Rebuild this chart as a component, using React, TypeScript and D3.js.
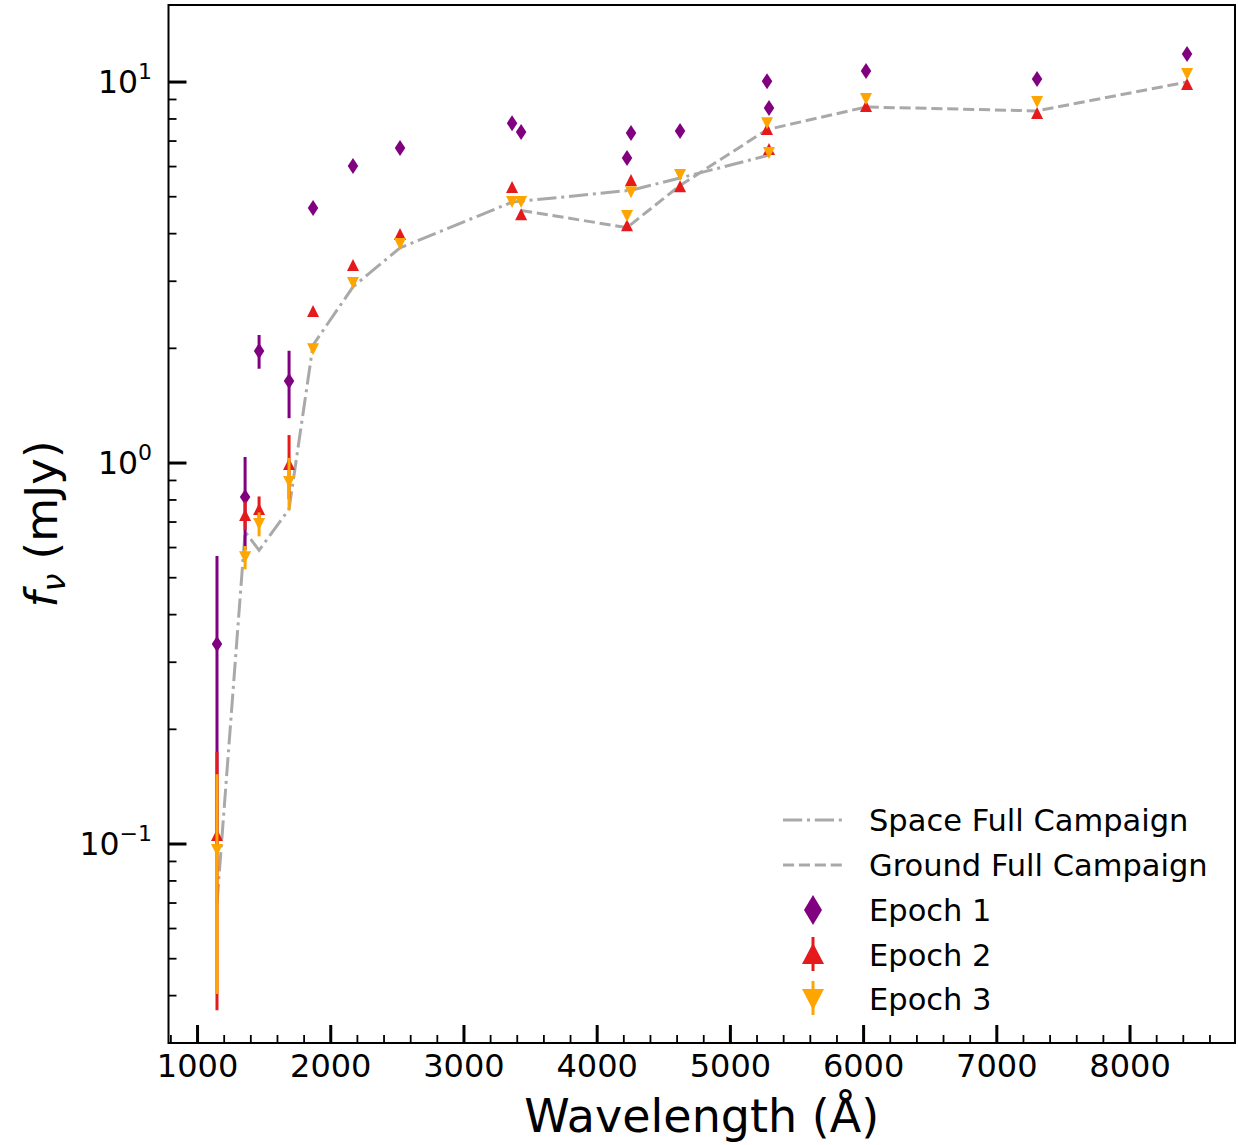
import React from "react";
import * as d3 from "d3";

const wavelengths = [1146, 1357, 1462, 1687, 1867, 2167, 2520, 3361, 3429, 4224, 4254, 4622, 5275, 5290, 6018, 7302, 8428];

const epoch1 = [0.335, 0.814, 1.968, 1.641, 4.67, 6.02, 6.71, 7.80, 7.39, 6.32, 7.35, 7.44, 10.05, 8.55, 10.69, 10.18, 11.84];
const epoch1Err = [0.235, 0.223, 0.2, 0.33, 0, 0, 0, 0, 0, 0, 0, 0, 0, 0, 0, 0, 0];

const epoch2 = [0.1056, 0.730, 0.757, 0.994, 2.506, 3.31, 3.99, 5.30, 4.50, 4.21, 5.53, 5.33, 7.53, 6.67, 8.65, 8.29, 9.88];
const epoch2Err = [0.069, 0.063, 0.06, 0.19, 0, 0, 0, 0, 0, 0, 0, 0, 0, 0, 0, 0, 0];

const epoch3 = [0.0964, 0.566, 0.692, 0.892, 1.99, 2.97, 3.76, 4.84, 4.84, 4.45, 5.14, 5.70, 7.80, 6.51, 9.02, 8.86, 10.50];
const epoch3Err = [0.056, 0.04, 0.05, 0.14, 0, 0, 0, 0, 0, 0, 0, 0, 0, 0, 0, 0, 0];

const spaceWave = [1146, 1357, 1462, 1687, 1867, 2167, 2520, 3361, 4254, 4622, 5290];
const spaceFlux = [0.07, 0.66, 0.59, 0.757, 2.04, 2.90, 3.67, 4.84, 5.2, 5.6, 6.43];

const groundWave = [3429, 4224, 4622, 5275, 6018, 7302, 8428];
const groundFlux = [4.6, 4.15, 5.35, 7.5, 8.6, 8.4, 10.0];

const xMajor = [1000, 2000, 3000, 4000, 5000, 6000, 7000, 8000];
const yMajor = [0.1, 1, 10];
const yMajorExp = ["\u22121", "0", "1"];

const W = 1238, H = 1145;
const L = 168.5, R = 1235, T = 5, B = 1043;
const FONT = "DejaVu Sans, sans-serif";
const PURPLE = "#800080";
const RED = "#e41a1c";
const ORANGE = "#ffa500";
const GREY = "#a9a9a9";

function diamondPath(cx: number, cy: number, w: number, h: number) {
  return `M${cx},${cy - h / 2}L${cx + w / 2},${cy}L${cx},${cy + h / 2}L${cx - w / 2},${cy}Z`;
}
function triUp(cx: number, cy: number, s: number) {
  return `M${cx},${cy - s / 2}L${cx + s / 2},${cy + s / 2}L${cx - s / 2},${cy + s / 2}Z`;
}
function triDown(cx: number, cy: number, s: number) {
  return `M${cx},${cy + s / 2}L${cx + s / 2},${cy - s / 2}L${cx - s / 2},${cy - s / 2}Z`;
}

export default function App() {
  const x = d3.scaleLinear().domain([782, 8788]).range([L, R]);
  const y = d3.scaleLog().domain([0.03004, 15.93]).range([B, T]);

  const xMinor: number[] = [];
  for (let v = 800; v <= 8700; v += 200) if (v % 1000 !== 0) xMinor.push(v);
  const yMinor: number[] = [];
  for (const base of [0.01, 0.1, 1]) for (let k = 2; k <= 9; k++) {
    const v = base * k;
    if (v >= 0.03004 && v <= 15.93) yMinor.push(v);
  }

  const line = d3.line<[number, number]>().x(d => x(d[0])).y(d => y(d[1]));
  const spacePts = spaceWave.map((w, i) => [w, spaceFlux[i]] as [number, number]);
  const groundPts = groundWave.map((w, i) => [w, groundFlux[i]] as [number, number]);

  const series = [
    { vals: epoch1, err: epoch1Err, color: PURPLE, kind: "d" },
    { vals: epoch2, err: epoch2Err, color: RED, kind: "^" },
    { vals: epoch3, err: epoch3Err, color: ORANGE, kind: "v" },
  ];

  const marker = (kind: string, cx: number, cy: number, color: string, scale: number, key?: any) => {
    let d = "";
    if (kind === "d") d = diamondPath(cx, cy, 10.5 * scale, 16 * scale);
    else if (kind === "^") d = triUp(cx, cy, 12 * scale);
    else d = triDown(cx, cy, 12 * scale);
    return <path key={key} d={d} fill={color} />;
  };

  const legendRows = [
    { label: "Space Full Campaign", type: "line", dash: "19.2,4.8,3,4.8" },
    { label: "Ground Full Campaign", type: "line", dash: "11.1,4.8" },
    { label: "Epoch 1", type: "d", color: PURPLE },
    { label: "Epoch 2", type: "^", color: RED },
    { label: "Epoch 3", type: "v", color: ORANGE },
  ];
  const legendY = [820, 865, 910, 955, 999];

  return (
    <svg width={W} height={H} style={{ position: "absolute", left: 0, top: 0, background: "#fff" }} fontFamily={FONT}>
      <rect x={0} y={0} width={W} height={H} fill="#fff" />
      <defs>
        <clipPath id="plotclip">
          <rect x={L} y={T} width={R - L} height={B - T} />
        </clipPath>
      </defs>
      <g clipPath="url(#plotclip)">
        <path d={line(spacePts) || ""} fill="none" stroke={GREY} strokeWidth={3} strokeDasharray="19.2,4.8,3,4.8" />
        <path d={line(groundPts) || ""} fill="none" stroke={GREY} strokeWidth={3} strokeDasharray="11.1,4.8" />
        {series.map((s, si) => (
          <g key={si}>
            {s.vals.map((v, i) =>
              s.err[i] > 0 ? (
                <line key={"e" + i} x1={x(wavelengths[i])} x2={x(wavelengths[i])}
                  y1={y(v + s.err[i])} y2={y(Math.max(v - s.err[i], 0.001))}
                  stroke={s.color} strokeWidth={3} />
              ) : null
            )}
            {s.vals.map((v, i) => marker(s.kind, x(wavelengths[i]), y(v), s.color, 1, "m" + i))}
          </g>
        ))}
      </g>

      {/* ticks */}
      {xMajor.map(v => (
        <line key={"xM" + v} x1={x(v)} x2={x(v)} y1={B} y2={B - 18} stroke="#000" strokeWidth={3} />
      ))}
      {xMinor.map(v => (
        <line key={"xm" + v} x1={x(v)} x2={x(v)} y1={B} y2={B - 8} stroke="#000" strokeWidth={1.8} />
      ))}
      {yMajor.map(v => (
        <line key={"yM" + v} x1={L} x2={L + 18} y1={y(v)} y2={y(v)} stroke="#000" strokeWidth={3} />
      ))}
      {yMinor.map(v => (
        <line key={"ym" + v} x1={L} x2={L + 8} y1={y(v)} y2={y(v)} stroke="#000" strokeWidth={1.8} />
      ))}
      <rect x={L} y={T} width={R - L} height={B - T} fill="none" stroke="#000" strokeWidth={2} />

      {/* tick labels */}
      {xMajor.map(v => (
        <text key={"xl" + v} x={x(v)} y={1077} fontSize={32} textAnchor="middle" fill="#000">{v}</text>
      ))}
      {yMajor.map((v, i) => (
        <text key={"yl" + v} x={152} y={y(v) + 11} fontSize={31.5} textAnchor="end" fill="#000">
          10<tspan fontSize={22} dy={-14}>{yMajorExp[i]}</tspan>
        </text>
      ))}

      {/* axis labels */}
      <text x={(L + R) / 2} y={1132} fontSize={46} textAnchor="middle" fill="#000">Wavelength (Å)</text>
      <text transform={`translate(57,${(T + B) / 2}) rotate(-90)`} fontSize={45} textAnchor="middle" fill="#000">
        <tspan fontStyle="italic">f</tspan>
        <tspan fontStyle="italic" fontSize={32} dy={8}>ν</tspan>
        <tspan dy={-8}> (mJy)</tspan>
      </text>

      {/* legend */}
      {legendRows.map((r, i) => (
        <g key={"lg" + i}>
          {r.type === "line" ? (
            <line x1={783} x2={843} y1={legendY[i]} y2={legendY[i]} stroke={GREY} strokeWidth={3} strokeDasharray={r.dash} />
          ) : (
            <g>
              {r.type !== "d" ? (
                <line x1={813} x2={813} y1={legendY[i] - 18} y2={legendY[i] + 16} stroke={r.color} strokeWidth={3} />
              ) : null}
              {r.type === "d"
                ? <path d={diamondPath(813, legendY[i], 18, 30)} fill={r.color} />
                : r.type === "^"
                  ? <path d={`M813,${legendY[i] - 12}L824,${legendY[i] + 9}L802,${legendY[i] + 9}Z`} fill={r.color} />
                  : <path d={`M813,${legendY[i] + 11}L824,${legendY[i] - 10}L802,${legendY[i] - 10}Z`} fill={r.color} />}
            </g>
          )}
          <text x={869} y={legendY[i] + 11} fontSize={30.5} fill="#000">{r.label}</text>
        </g>
      ))}
    </svg>
  );
}
